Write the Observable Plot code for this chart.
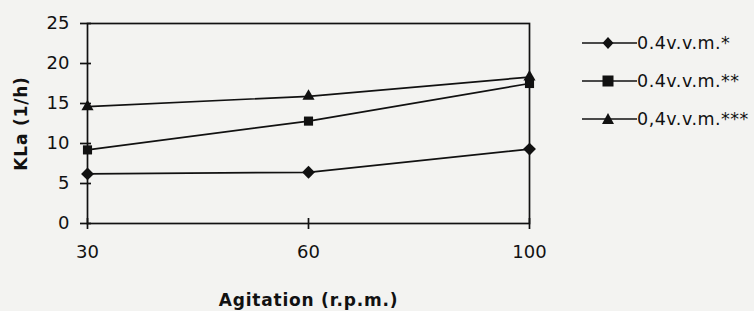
<!DOCTYPE html>
<html><head><meta charset="utf-8">
<script src="https://cdn.jsdelivr.net/npm/d3@7"></script>
<script src="https://cdn.jsdelivr.net/npm/@observablehq/plot@0.6"></script>
<style>
body{margin:0;background:#f3f3f1;}
#wrap{position:relative;width:754px;height:311px;font-family:"DejaVu Sans",sans-serif;}
#wrap svg text{font-family:"DejaVu Sans",sans-serif;}
#legend{position:absolute;left:582px;top:24px;}
.row{display:flex;align-items:center;height:38px;font-size:17.5px;letter-spacing:0.5px;color:#111;}
</style></head><body>
<div id="wrap"><div id="legend"></div></div>
<script>
const agitation = ["30", "60", "100"];
const seriesNames = ["0.4v.v.m.*", "0.4v.v.m.**", "0,4v.v.m.***"];
const series1 = [6.2, 6.4, 9.3];
const series2 = [9.2, 12.8, 17.5];
const series3 = [14.6, 15.9, 18.3];
const symbols = ["diamond2", "square2", "triangle2"];
const yTicks = [0, 5, 10, 15, 20, 25];

const data = [];
[series1, series2, series3].forEach((s, i) => s.forEach((v, j) => data.push({x: agitation[j], y: v, s: seriesNames[i]})));

const chart = Plot.plot({
  width: 754, height: 311,
  marginLeft: 87, marginRight: 225, marginTop: 23, marginBottom: 88,
  style: {background: "transparent", fontFamily: "DejaVu Sans, sans-serif", fontSize: "18px", color: "#111"},
  x: {type: "point", domain: agitation, padding: 0},
  y: {domain: [0, 25]},
  symbol: {domain: seriesNames, range: symbols},
  marks: [
    Plot.frame({stroke: "#111", strokeWidth: 1.7}),
    Plot.axisY({ticks: yTicks, tickSize: 7, tickPadding: 11, strokeWidth: 1.7, fontSize: 18, label: "KLa (1/h)", labelAnchor: "center", labelOffset: 73, labelArrow: false}),
    Plot.axisY({ticks: yTicks, tickSize: -4, text: null, strokeWidth: 1.7, label: null}),
    Plot.axisX({tickSize: 6, tickPadding: 16, strokeWidth: 1.7, fontSize: 18, label: "Agitation (r.p.m.)", labelAnchor: "center", labelOffset: 82, labelArrow: false}),
    Plot.axisX({tickSize: -5, text: null, strokeWidth: 1.7, label: null}),
    Plot.line(data, {x: "x", y: "y", z: "s", stroke: "#111", strokeWidth: 1.7}),
    Plot.dot(data, {x: "x", y: "y", symbol: "s", fill: "#111", r: 5.8})
  ]
});
chart.querySelectorAll("[aria-label='y-axis label'], [aria-label='x-axis label']").forEach(g => {
  g.querySelectorAll("text").forEach(e => {e.style.fontWeight = "bold"; e.style.fontSize = "17px"; e.style.letterSpacing = "0.8px";});
});
document.getElementById("wrap").prepend(chart);
chart.style.position = "absolute"; chart.style.left = "0"; chart.style.top = "0";

const leg = document.getElementById("legend");
const shapes = [
  '<path d="M26,1 L31.5,7 L26,13 L20.5,7 Z" fill="#111"/>',
  '<rect x="20.5" y="1.5" width="11" height="11" fill="#111"/>',
  '<path d="M26,1 L32,12 L20,12 Z" fill="#111"/>'
];
seriesNames.forEach((n, i) => {
  const r = document.createElement("div"); r.className = "row";
  r.innerHTML = `<svg width="55" height="14"><line x1="0" x2="55" y1="7" y2="7" stroke="#111" stroke-width="1.7"/>${shapes[i]}</svg><span>${n}</span>`;
  leg.appendChild(r);
});
</script></body></html>
